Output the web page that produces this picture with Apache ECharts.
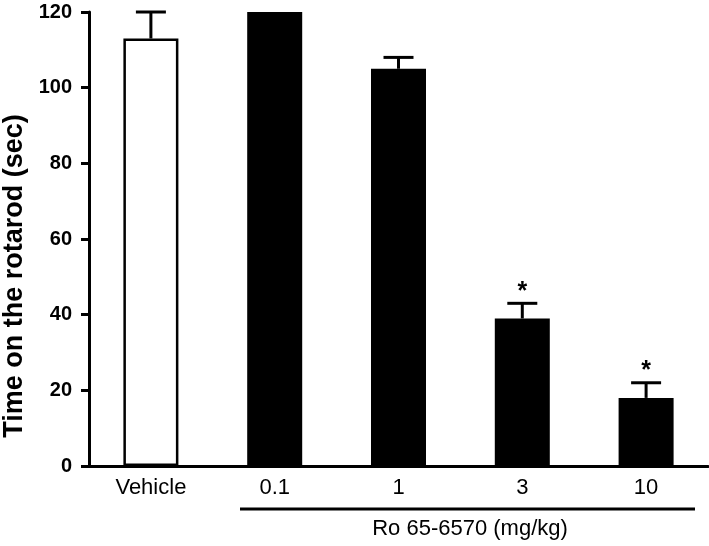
<!DOCTYPE html>
<html><head><meta charset="utf-8">
<script src="https://cdn.jsdelivr.net/npm/echarts@6/dist/echarts.min.js"></script>
<style>html,body{margin:0;padding:0;background:#fff}#c{width:709px;height:546px}</style>
</head><body><div id="c"></div>
<script>
const categories = ['Vehicle', '0.1', '1', '3', '10'];
const means = [113, 120, 105, 39, 18];
const errors = [7, 0, 3, 4, 4];
const significant = [false, false, false, true, true];
const yTicks = [0, 20, 40, 60, 80, 100, 120];

const chart = echarts.init(document.getElementById('c'));
const font = 'Liberation Sans, Arial, sans-serif';

chart.setOption({
  animation: false,
  grid: { left: 89, right: 1, top: 12, bottom: 80 },
  xAxis: {
    type: 'category', data: categories,
    axisLine: { lineStyle: { color: '#000', width: 3 } },
    axisTick: { show: false },
    axisLabel: { color: '#000', fontSize: 22, fontFamily: font, margin: 11 }
  },
  yAxis: {
    type: 'value', min: yTicks[0], max: yTicks[yTicks.length - 1], interval: 20,
    splitLine: { show: false },
    axisLine: { show: true, lineStyle: { color: '#000', width: 3 } },
    axisTick: { show: true, length: 8, lineStyle: { color: '#000', width: 3 } },
    axisLabel: { color: '#000', fontSize: 20, fontWeight: 'bold', fontFamily: font, margin: 17 }
  },
  series: [
    {
      type: 'bar', barWidth: 55,
      data: means.map((v, i) => ({
        value: v,
        itemStyle: i === 0
          ? { color: '#fff', borderColor: '#000', borderWidth: 2.5 }
          : { color: '#000' }
      })),
      z: 2
    },
    {
      type: 'custom', z: 3,
      data: means.map((v, i) => [i, v, errors[i], significant[i] ? 1 : 0]),
      renderItem: function (params, api) {
        const i = api.value(0), m = api.value(1), e = api.value(2), s = api.value(3);
        const base = api.coord([i, m]);
        const top = api.coord([i, m + e]);
        const children = [];
        if (e > 0) {
          children.push({ type: 'line', shape: { x1: base[0], y1: base[1], x2: top[0], y2: top[1] }, style: { stroke: '#000', lineWidth: 3 } });
          children.push({ type: 'line', shape: { x1: top[0] - 15, y1: top[1], x2: top[0] + 15, y2: top[1] }, style: { stroke: '#000', lineWidth: 3 } });
        }
        if (s) {
          children.push({ type: 'text', x: top[0], y: top[1] + 1, style: { text: '*', fill: '#000', font: 'bold 25px ' + font, textAlign: 'center', textVerticalAlign: 'bottom' } });
        }
        return { type: 'group', children: children };
      }
    }
  ],
  graphic: [
    { type: 'text', x: 15, y: 276, rotation: Math.PI / 2, style: { text: 'Time on the rotarod (sec)', fill: '#000', font: 'bold 27px ' + font, textAlign: 'center', textVerticalAlign: 'middle' } },
    { type: 'line', shape: { x1: 240, y1: 509, x2: 695, y2: 509 }, style: { stroke: '#000', lineWidth: 3 } },
    { type: 'text', x: 470, y: 529, style: { text: 'Ro 65-6570 (mg/kg)', fill: '#000', font: '22px ' + font, textAlign: 'center', textVerticalAlign: 'middle' } }
  ]
});
</script></body></html>
